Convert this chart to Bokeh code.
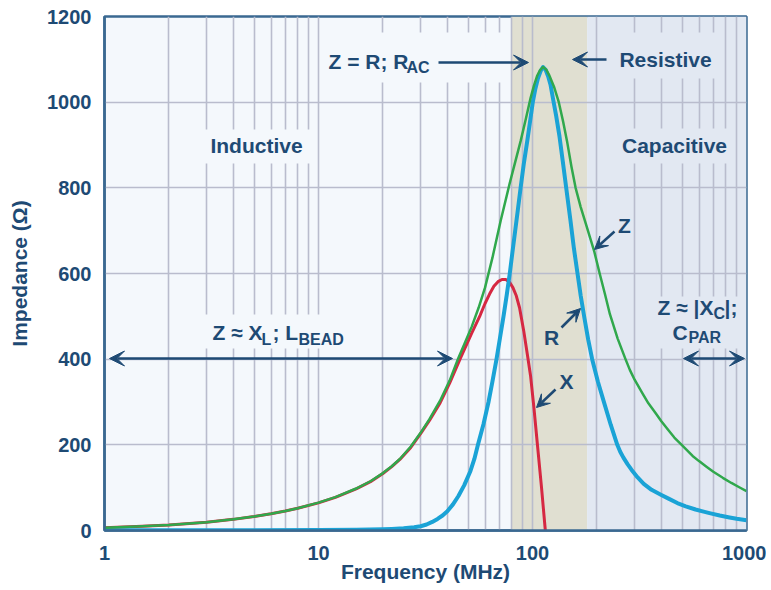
from bokeh.plotting import figure
from bokeh.models import (Range1d, FixedTicker, NumeralTickFormatter, BoxAnnotation,
                          Label, Arrow, VeeHead)
from bokeh.embed import file_html
from bokeh.resources import INLINE

# ---- data (frequency in MHz, impedance in ohms) ----
z_freq = [1, 1.5, 2, 3, 4, 5, 6, 7, 8, 10, 12, 15, 17.5, 20, 22, 24, 27, 30, 33, 37, 41, 45,
          48.5, 52, 56, 60, 65, 71, 78.2, 83, 88, 93, 98, 101.5, 105, 108.5, 112, 116, 120,
          126, 132.7, 139, 145, 152, 159, 168, 177, 194, 206, 218, 230, 250, 272, 285, 300,
          325, 348, 375, 400, 430, 460, 495, 528, 560, 600, 650, 700, 775, 850, 925, 1000]
z_vals = [6.5, 10, 13, 19.5, 26, 32.5, 39, 45.5, 52, 65, 78, 98, 115, 134, 150, 167, 196, 228, 260, 303, 350, 402,
          440, 476, 520, 567, 637, 723, 810, 860, 909, 960, 1010, 1038, 1061, 1075, 1082, 1076, 1062,
          1036, 1000, 955, 909, 850, 800, 755, 718, 653, 600, 552, 505, 448, 400, 375, 352,
          322, 297, 275, 255, 235, 217, 201, 187, 174, 162, 149, 137, 123, 111, 101, 92]

r_freq = [1, 5, 10, 15, 20, 22, 25, 28, 30, 32, 34, 36, 38, 40, 42.5, 45, 48, 51.3, 53.5, 55.6,
          59, 62.3, 65, 67.9, 70.5, 73.2, 75.8, 78.3, 80.5, 82.8, 85.4, 88, 91, 94.5, 97.4,
          100.3, 103, 106, 109, 112, 115, 118.4, 121.5, 125, 129, 133.7, 138.5, 143.7, 150.5,
          156, 162.3, 168, 175, 182, 190, 202, 215, 232, 249, 257, 266, 278, 290, 310, 331,
          360, 400, 430, 475, 520, 578, 630, 679, 750, 833, 900, 1000]
r_vals = [0.5, 0.8, 1.2, 2, 3, 3.7, 5, 7.5, 10, 14, 20, 27, 35, 45, 61, 80, 106, 139, 167, 200,
          248, 300, 348, 400, 450, 500, 550, 600, 648, 696, 748, 800, 855, 909, 955,
          1000, 1030, 1055, 1072, 1082, 1076, 1060, 1040, 1005, 968, 920, 862, 800, 723,
          660, 600, 548, 495, 446, 400, 348, 302, 247, 200, 184, 170, 155, 142, 124, 109,
          95, 83, 75, 64, 56.5, 49, 44, 40, 35, 30.5, 27.5, 24]

x_freq = [1, 1.5, 2, 3, 4, 5, 6, 7, 8, 10, 12, 15, 17.5, 20, 22, 24, 27, 30, 33, 37, 41, 46, 49,
          52, 57, 60, 63, 66, 69, 72, 75, 78, 81, 84, 87, 91, 95, 98, 101.4, 105.5, 110.2, 114.8]
x_vals = [6.5, 10, 13, 19.5, 26, 32.5, 39, 45.5, 52, 64.5, 77.5, 97, 114, 133, 149, 166, 194, 226, 257, 298, 344, 402, 432,
          461, 503, 530, 552, 570, 581, 586, 586, 580, 567, 548, 520, 466, 405, 360, 290, 199, 100, 0]

x_major = [1, 10, 100, 1000]
x_tick_labels = ["1", "10", "100", "1000"]
x_minor = [m * 10 ** k for k in range(3) for m in range(2, 10)]
y_ticks = [0, 200, 400, 600, 800, 1000, 1200]

tan_band = (80, 180)        # resistive region (MHz)
cap_band = (180, 1000)      # capacitive region (MHz)

# ---- styling ----
FONT = "Liberation Sans"
NAVY = "#1e4a74"
SPINE = "#3a6891"
GRID = "#b9bccd"
LEFT_BG = "#f4f8fc"
TAN = "#e0dfd1"
RIGHT_BG = "#e2e8f2"
GREEN = "#30a84c"
BLUE = "#1aa3d6"
RED = "#d62842"

# page pixel -> data helpers for annotation placement (frame: x 104..746, y 16..530)
def px_f(px):
    return 10 ** ((px - 104) / 214.0)

def py_z(py):
    return (530 - py) * 1200 / 514.0

p = figure(width=766, height=588, x_axis_type="log",
           x_range=Range1d(1, 1000), y_range=Range1d(0, 1200),
           output_backend="svg", toolbar_location=None,
           min_border_left=104, min_border_right=20, min_border_top=16, min_border_bottom=58,
           background_fill_color=LEFT_BG, border_fill_color="white",
           x_axis_label="Frequency (MHz)", y_axis_label="Impedance (Ω)")

p.outline_line_color = SPINE
p.outline_line_width = 2.5

xt = FixedTicker(ticks=x_major, minor_ticks=x_minor)
p.xaxis.ticker = xt
p.xaxis.formatter = NumeralTickFormatter(format="0")
p.xaxis.major_label_overrides = dict(zip(x_major, x_tick_labels))
p.yaxis.ticker = FixedTicker(ticks=y_ticks)

for ax in (p.xaxis[0], p.yaxis[0]):
    ax.axis_label_text_font = FONT
    ax.axis_label_text_font_size = "21px"
    ax.axis_label_text_font_style = "bold"
    ax.axis_label_text_color = NAVY
    ax.major_label_text_font = FONT
    ax.major_label_text_font_size = "20px"
    ax.major_label_text_font_style = "bold"
    ax.major_label_text_color = NAVY
    ax.major_tick_line_color = None
    ax.minor_tick_line_color = None
    ax.major_tick_out = 0
    ax.major_tick_in = 0
    ax.minor_tick_out = 0
    ax.minor_tick_in = 0
    ax.axis_line_color = SPINE
    ax.axis_line_width = 2.5

p.xaxis.major_label_standoff = 15
p.xaxis.axis_label_standoff = -3
p.yaxis.major_label_standoff = 13
p.yaxis.axis_label_standoff = 13

p.xgrid.ticker = xt
p.xgrid.grid_line_color = GRID
p.xgrid.grid_line_width = 1.6
p.xgrid.minor_grid_line_color = GRID
p.xgrid.minor_grid_line_width = 1.6
p.ygrid.grid_line_color = GRID
p.ygrid.grid_line_width = 1.6

# background regions (below the grid)
p.add_layout(BoxAnnotation(left=tan_band[0], right=tan_band[1], fill_color=TAN, fill_alpha=1,
                           line_color=None, level="image"))
p.add_layout(BoxAnnotation(left=cap_band[0], right=cap_band[1], fill_color=RIGHT_BG, fill_alpha=1,
                           line_color=None, level="image"))

# blanking boxes behind texts (cover grid lines)
blanks = [(196, 313, 129, 163, LEFT_BG), (614, 731, 128, 163, RIGHT_BG),
          (607, 722, 32, 78, RIGHT_BG), (321, 508, 32, 82, LEFT_BG),
          (196, 350, 314, 348, LEFT_BG), (645, 742, 296, 348, RIGHT_BG)]
for l, r, t, b, c in blanks:
    p.add_layout(BoxAnnotation(left=px_f(l), right=px_f(r), top=py_z(t), bottom=py_z(b),
                               fill_color=c, fill_alpha=1, line_color=None, level="underlay"))

# curves
p.line(x_freq, x_vals, line_color=RED, line_width=3, line_join="round")
p.line(r_freq, r_vals, line_color=BLUE, line_width=4, line_join="round")
p.line(z_freq, z_vals, line_color=GREEN, line_width=2.5, line_join="round")

# arrows
arrows = [(438, 62, 528, 62, False, 15), (606, 59, 572, 59, False, 15),
          (109, 358, 452, 358, True, 15), (683, 358, 744, 358, True, 15),
          (614, 231, 594, 249, False, 13), (561, 327, 580, 308, False, 13),
          (555, 389, 536, 407, False, 13)]
for x0, y0, x1, y1, both, hs in arrows:
    end = VeeHead(size=hs, fill_color=NAVY, line_color=NAVY, line_width=1)
    start = VeeHead(size=hs, fill_color=NAVY, line_color=NAVY, line_width=1) if both else None
    p.add_layout(Arrow(x_start=px_f(x0), y_start=py_z(y0), x_end=px_f(x1), y_end=py_z(y1),
                       start=start, end=end, line_color=NAVY, line_width=2.5))

# texts
texts = [("Inductive", 256, 145, 21, "center"), ("Capacitive", 674, 145, 21, "center"),
         ("Resistive", 665, 59, 21, "center"),
         ("Z = R; R", 328, 61, 21, "left"), ("AC", 406, 67, 16, "left"),
         ("Z ≈ X", 212, 332, 21, "left"), ("L", 261, 339, 16, "left"),
         ("; L", 272, 332, 21, "left"), ("BEAD", 298, 339, 16, "left"),
         ("Z ≈ |X", 657, 307, 21, "left"), ("C", 713, 313, 16, "left"),
         ("|;", 724, 307, 21, "left"),
         ("C", 672, 332, 21, "left"), ("PAR", 688, 337, 16, "left"),
         ("Z", 624, 225, 21, "center"), ("R", 551, 337, 21, "center"),
         ("X", 566, 381, 21, "center")]
for txt, tx, ty, fs, al in texts:
    p.add_layout(Label(x=px_f(tx), y=py_z(ty), text=txt, text_font=FONT,
                       text_font_size=f"{fs}px", text_font_style="bold", text_color=NAVY,
                       text_align=al, text_baseline="middle"))

open("out.html", "w").write(file_html(p, INLINE))
